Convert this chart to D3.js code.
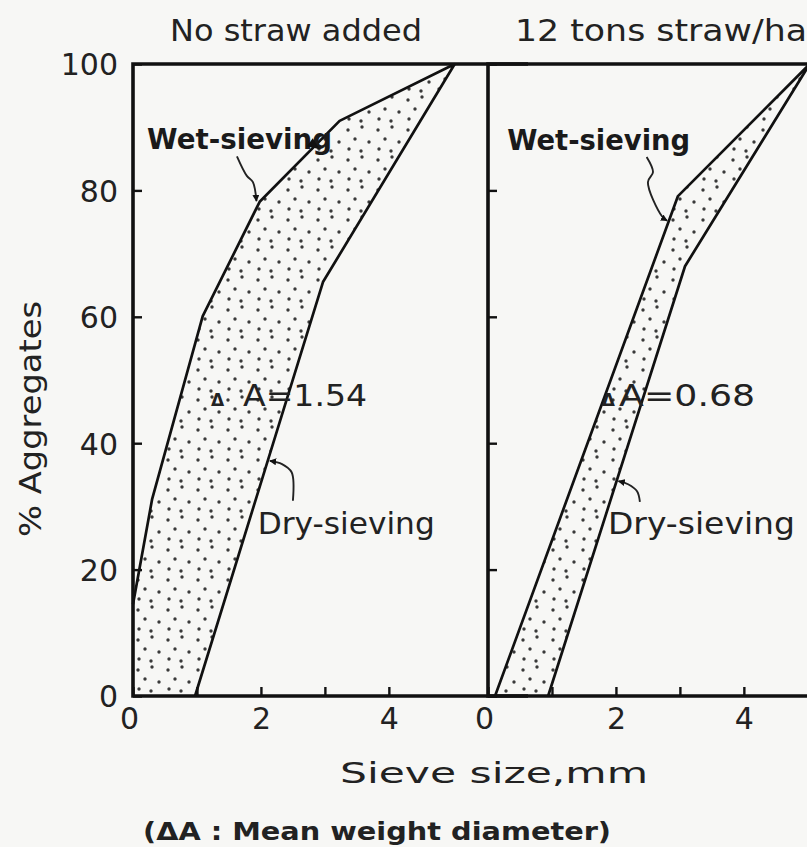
<!DOCTYPE html>
<html>
<head>
<meta charset="utf-8">
<script src="https://cdn.jsdelivr.net/npm/d3@7"></script>
<style>
  body { margin: 0; background: #f7f7f5; }
  svg { display: block; font-family: "DejaVu Sans", sans-serif; }
</style>
</head>
<body>
<div id="chart"></div>
<script>
// cumulative % aggregates vs sieve size (mm)
const panelTitles = ["No straw added", "12 tons straw/ha"];
const wetNoStraw = [[0, 14.5], [0.3, 31.2], [1.09, 60.1], [1.98, 78.2], [3.23, 91.0], [5.03, 100]];
const dryNoStraw = [[0.97, 0], [2.97, 65.5], [5.03, 100]];
const wetStraw = [[0.11, 0], [2.97, 79.1], [5.03, 100]];
const dryStraw = [[0.94, 0], [3.08, 68.0], [5.03, 100]];
const mwdValues = ["1.54", "0.68"];
const xTickValues = [0, 1, 2, 3, 4];
const xTickLabels = [0, 2, 4];
const yTickValues = [0, 20, 40, 60, 80, 100];

const width = 807, height = 847;
const panelW = 355, panelH = 632;
const origins = [[133, 64], [488, 64]];

const x = d3.scaleLinear().domain([0, 5.55]).range([0, panelW]);
const y = d3.scaleLinear().domain([0, 100]).range([panelH, 0]);

const svg = d3.select("#chart").append("svg")
  .attr("width", width)
  .attr("height", height);

const defs = svg.append("defs");
const stipple = defs.append("pattern")
  .attr("id", "stipple")
  .attr("patternUnits", "userSpaceOnUse")
  .attr("width", 30).attr("height", 30);
[[5, 6], [19, 3], [12, 15], [26, 18], [6, 25], [18, 27]].forEach(function (p) {
  stipple.append("circle").attr("cx", p[0]).attr("cy", p[1]).attr("r", 1.7).attr("fill", "#3a3a3a");
});
defs.append("marker")
  .attr("id", "head")
  .attr("viewBox", "0 0 10 10")
  .attr("refX", 9).attr("refY", 5)
  .attr("markerWidth", 7).attr("markerHeight", 7)
  .attr("markerUnits", "userSpaceOnUse")
  .attr("orient", "auto")
  .append("path").attr("d", "M0,0L10,5L0,10z").attr("fill", "#111");

const line = d3.line().x(d => x(d[0])).y(d => y(d[1]));
const curly = d3.line().x(d => x(d[0])).y(d => y(d[1])).curve(d3.curveCatmullRom);

// annotation placement in data units (mm, %)
const notes = [
  {
    wet: wetNoStraw, dry: dryNoStraw, region: [[0, 0]].concat(wetNoStraw, dryNoStraw.slice().reverse()),
    wetLabel: [0.22, 86.6, 185], dryLabel: [1.95, 25.6, 177],
    delta: [1.22, 1.72, 45.9, 124],
    wetArrow: [[1.625, 85.4], [1.78, 82.3], [1.875, 81.3], [1.93, 78.3]],
    dryArrow: [[2.5, 30.9], [2.48, 35.4], [2.33, 36.7], [2.14, 37.2]]
  },
  {
    wet: wetStraw, dry: dryStraw, region: wetStraw.concat(dryStraw.slice().reverse()),
    wetLabel: [0.3, 86.4, 183], dryLabel: [1.875, 25.6, 187],
    delta: [1.78, 2.05, 45.9, 136],
    wetArrow: [[2.48, 85.3], [2.58, 82.9], [2.5, 81.3], [2.72, 75.9], [2.8, 75.2]],
    dryArrow: [[2.375, 30.7], [2.33, 32.4], [2.19, 33.5], [2.04, 34.0]]
  }
];

notes.forEach(function (n, i) {
  const g = svg.append("g").attr("transform", `translate(${origins[i][0]},${origins[i][1]})`);

  // stippled band between the two curves
  g.append("path")
    .attr("d", line(n.region) + "Z")
    .attr("fill", "url(#stipple)")
    .attr("stroke", "none");

  g.append("path").attr("d", line(n.wet)).attr("fill", "none")
    .attr("stroke", "#111").attr("stroke-width", 2.7).attr("stroke-linejoin", "round");
  g.append("path").attr("d", line(n.dry)).attr("fill", "none")
    .attr("stroke", "#111").attr("stroke-width", 2.7).attr("stroke-linejoin", "round");

  // frame: left, top, bottom
  g.append("path")
    .attr("d", `M${x(5.55) + 40},0H0V${panelH}H${x(5.55) + 40}`)
    .attr("fill", "none").attr("stroke", "#111").attr("stroke-width", 3.6);

  // y ticks (pointing inward)
  const yAxis = d3.axisLeft(y).tickValues(yTickValues).tickSize(-9).tickPadding(15)
    .tickFormat(i === 0 ? d3.format("d") : "");
  const ya = g.append("g").call(yAxis);
  ya.select(".domain").remove();
  ya.selectAll(".tick line").attr("stroke", "#111").attr("stroke-width", 2.4);
  ya.selectAll(".tick text").attr("font-size", 30).attr("fill", "#222")
    .attr("font-family", "DejaVu Sans").attr("dy", "0.36em");

  // x ticks (pointing inward)
  const xAxis = d3.axisBottom(x).tickValues(xTickValues).tickSize(-9).tickPadding(12)
    .tickFormat(d => xTickLabels.includes(d) ? d : "");
  const xa = g.append("g").attr("transform", `translate(0,${panelH})`).call(xAxis);
  xa.select(".domain").remove();
  xa.selectAll(".tick line").attr("stroke", "#111").attr("stroke-width", 2.4);
  xa.selectAll(".tick text").attr("font-size", 30).attr("fill", "#222")
    .attr("font-family", "DejaVu Sans").attr("dx", d => d === 0 ? -4 : 0);

  // labels
  g.append("text")
    .attr("x", x(n.wetLabel[0])).attr("y", y(n.wetLabel[1]))
    .attr("font-size", 28).attr("font-weight", "bold").attr("fill", "#1a1a1a")
    .attr("textLength", n.wetLabel[2]).attr("lengthAdjust", "spacingAndGlyphs")
    .text("Wet-sieving");
  g.append("text")
    .attr("x", x(n.dryLabel[0])).attr("y", y(n.dryLabel[1]))
    .attr("font-size", 30).attr("fill", "#222")
    .attr("textLength", n.dryLabel[2]).attr("lengthAdjust", "spacingAndGlyphs")
    .text("Dry-sieving");
  g.append("text")
    .attr("x", x(n.delta[0])).attr("y", y(n.delta[2]))
    .attr("font-size", 17).attr("font-weight", "bold").attr("fill", "#222")
    .text("\u0394");
  g.append("text")
    .attr("x", x(n.delta[1])).attr("y", y(n.delta[2]))
    .attr("font-size", 30).attr("fill", "#222")
    .attr("textLength", n.delta[3]).attr("lengthAdjust", "spacingAndGlyphs")
    .text("A=" + mwdValues[i]);

  // curly pointer strokes
  [n.wetArrow, n.dryArrow].forEach(function (a) {
    g.append("path").attr("d", curly(a)).attr("fill", "none")
      .attr("stroke", "#222").attr("stroke-width", 1.9)
      .attr("marker-end", "url(#head)");
  });

  // panel title
  g.append("text")
    .attr("x", i === 0 ? 37 : 27).attr("y", -23)
    .attr("font-size", 30).attr("fill", "#222")
    .attr("textLength", i === 0 ? 252 : 292).attr("lengthAdjust", "spacingAndGlyphs")
    .text(panelTitles[i]);
});

// small dark arrowhead where the left "Wet-sieving" label meets its curve
svg.append("path")
  .attr("transform", `translate(${origins[0][0] + x(2.88)},${origins[0][1] + y(86.8)}) rotate(35)`)
  .attr("d", "M-9,-5L3,0L-9,5z").attr("fill", "#111");

svg.append("text")
  .attr("transform", "translate(41,419) rotate(-90)")
  .attr("text-anchor", "middle")
  .attr("font-size", 31).attr("fill", "#222")
  .attr("textLength", 236).attr("lengthAdjust", "spacingAndGlyphs")
  .text("% Aggregates");

svg.append("text")
  .attr("x", 340).attr("y", 783)
  .attr("font-size", 28).attr("fill", "#222")
  .attr("textLength", 308).attr("lengthAdjust", "spacingAndGlyphs")
  .text("Sieve size,mm");

svg.append("text")
  .attr("x", 143).attr("y", 840)
  .attr("font-size", 25).attr("font-weight", "bold").attr("fill", "#222")
  .attr("textLength", 468).attr("lengthAdjust", "spacingAndGlyphs")
  .text("(\u0394A : Mean weight diameter)");
</script>
</body>
</html>
